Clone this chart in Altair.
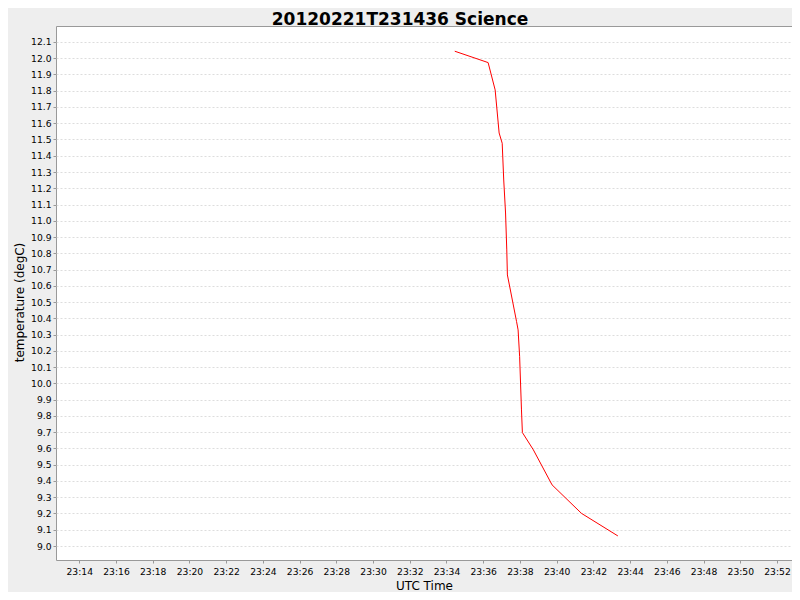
import altair as alt
import pandas as pd

# Data
times = [
    "2012-02-21T23:34:27", "2012-02-21T23:36:16", "2012-02-21T23:36:39",
    "2012-02-21T23:36:52", "2012-02-21T23:37:02", "2012-02-21T23:37:07",
    "2012-02-21T23:37:13", "2012-02-21T23:37:17", "2012-02-21T23:37:19",
    "2012-02-21T23:37:49", "2012-02-21T23:37:54", "2012-02-21T23:37:59",
    "2012-02-21T23:38:05", "2012-02-21T23:38:08", "2012-02-21T23:38:44",
    "2012-02-21T23:39:45", "2012-02-21T23:41:21", "2012-02-21T23:43:20",
]
temps = [
    12.043, 11.973, 11.805,
    11.540, 11.477, 11.251,
    11.048, 10.821, 10.667,
    10.380, 10.329, 10.165,
    9.837, 9.698, 9.591,
    9.376, 9.201, 9.062,
]
y_ticks = [round(9.0 + 0.1 * i, 1) for i in range(32)]
x_tick_minutes = list(range(14, 53, 2))
title_text = ["20120221T231436 Science"]

df = pd.DataFrame({"time": times, "temp": temps})
title_df = pd.DataFrame({"title": title_text})

x_values = [alt.DateTime(year=2012, month=2, date=21, hours=23, minutes=m)
            for m in x_tick_minutes]
x_domain = [
    alt.DateTime(year=2012, month=2, date=21, hours=23, minutes=12, seconds=44),
    alt.DateTime(year=2012, month=2, date=21, hours=23, minutes=52, seconds=49),
]

line = alt.Chart(df).mark_line(color="#ff0000", strokeWidth=1, clip=True).encode(
    x=alt.X(
        "time:T",
        scale=alt.Scale(domain=x_domain, nice=False),
        axis=alt.Axis(
            title="UTC Time",
            values=x_values,
            format="%H:%M",
            grid=False,
            domain=False,
            tickSize=3,
            tickColor="#999999",
            labelPadding=4,
            labelFontSize=9.2,
            labelFont="DejaVu Sans",
            labelColor="#000000",
            labelBaseline="top",
            labelFlush=False,
            labelOverlap=False,
            titleFont="DejaVu Sans",
            titleFontSize=12,
            titleFontWeight="normal",
            titleColor="#000000",
            titleBaseline="alphabetic",
            titleY=29,
        ),
    ),
    y=alt.Y(
        "temp:Q",
        scale=alt.Scale(domain=[8.914, 12.198], nice=False, zero=False),
        axis=alt.Axis(
            title="temperature (degC)",
            values=y_ticks,
            format=".1f",
            grid=True,
            gridColor="#dddddd",
            gridDash=[2, 2],
            gridWidth=1,
            domain=False,
            tickSize=3,
            tickColor="#999999",
            labelPadding=2,
            labelFontSize=9.2,
            labelFont="DejaVu Sans",
            labelColor="#000000",
            labelOverlap=False,
            labelFlush=False,
            titleFont="DejaVu Sans",
            titleFontSize=12,
            titleFontWeight="normal",
            titleColor="#000000",
            titleAngle=270,
            titleBaseline="alphabetic",
            titleX=-33,
            titleY=276,
        ),
    ),
)

title_mark = alt.Chart(title_df).mark_text(
    font="DejaVu Sans",
    fontSize=17,
    fontWeight="bold",
    color="#000000",
    align="center",
    baseline="alphabetic",
).encode(
    text="title:N",
    x=alt.value(344),
    y=alt.value(-1.5),
)

chart = alt.layer(line, title_mark).properties(
    width=736,
    height=534,
    autosize="none",
    padding={"left": 48, "top": 18, "right": 0, "bottom": 32},
).configure(
    background="#eeeeee",
).configure_view(
    fill="#ffffff",
    stroke="#999999",
    strokeWidth=1,
)

chart.save("out.html", embed_options={"renderer": "svg", "actions": False})
